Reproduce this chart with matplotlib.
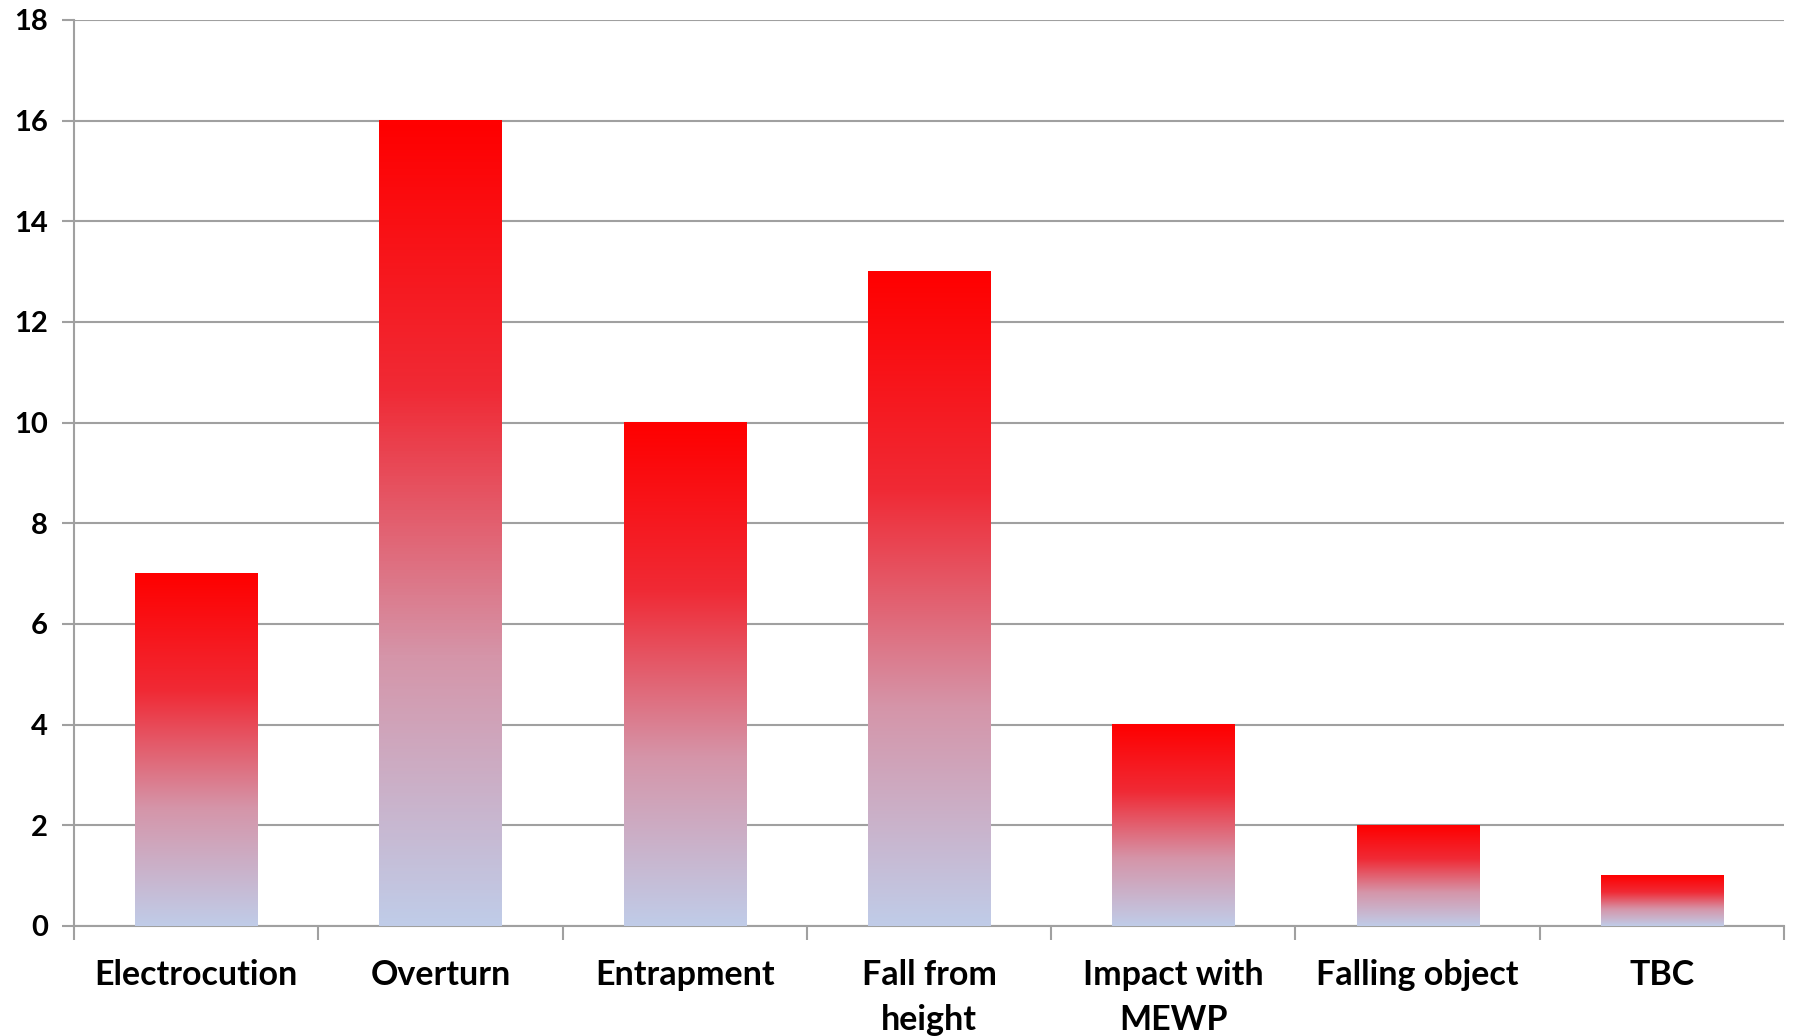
import numpy as np
import matplotlib.pyplot as plt
from matplotlib.colors import LinearSegmentedColormap

categories = ['Electrocution', 'Overturn', 'Entrapment', 'Fall from\nheight',
              'Impact with\nMEWP', 'Falling object', 'TBC']
values = [7, 16, 10, 13, 4, 2, 1]
yticks = [0, 2, 4, 6, 8, 10, 12, 14, 16, 18]

plt.rcParams['font.family'] = ['Lato', 'DejaVu Sans']

fig = plt.figure(figsize=(17.93, 10.36), dpi=100)
ax = fig.add_axes([0.0413, 0.1062, 0.9537, 0.8745])

# gradient: light blue at the bottom, red at the top
cmap = LinearSegmentedColormap.from_list('grad', ['#c0cce8', '#d595a9', '#f02a35', '#ff0000'])
grad = np.linspace(0, 1, 256).reshape(-1, 1)

x = np.arange(len(categories))
width = 0.5
bars = ax.bar(x, values, width=width, color='none', zorder=3)
for b in bars:
    x0, y0 = b.get_x(), b.get_y()
    w, h = b.get_width(), b.get_height()
    ax.imshow(grad, cmap=cmap, origin='lower', aspect='auto',
              extent=[x0, x0 + w, y0, y0 + h], zorder=3, interpolation='bilinear')

ax.set_yticks(yticks)
ax.set_xticks(x)
ax.set_xticklabels(categories, fontsize=24.5, fontweight='bold', linespacing=1.5)
ax.set_xticks(np.arange(-0.5, len(categories) + 0.5, 1), minor=True)
ax.set_xlim(-0.5, len(categories) - 0.5)
ax.set_ylim(0, 18)
ax.tick_params(axis='x', which='major', length=0, pad=24)
ax.tick_params(axis='x', which='minor', length=10, width=1.5, color='#a0a0a0', direction='out')
ax.tick_params(axis='y', which='major', length=9, width=1.5, color='#a0a0a0', pad=10,
               labelsize=21)
for lbl in ax.get_yticklabels():
    lbl.set_fontweight('bold')

ax.grid(axis='y', color='#a0a0a0', linewidth=1.5, zorder=0)
ax.set_axisbelow(True)
for s in ['top', 'right']:
    ax.spines[s].set_visible(False)
for s in ['left', 'bottom']:
    ax.spines[s].set_color('#a0a0a0')
    ax.spines[s].set_linewidth(1.5)

fig.savefig('out.png', dpi=100)
